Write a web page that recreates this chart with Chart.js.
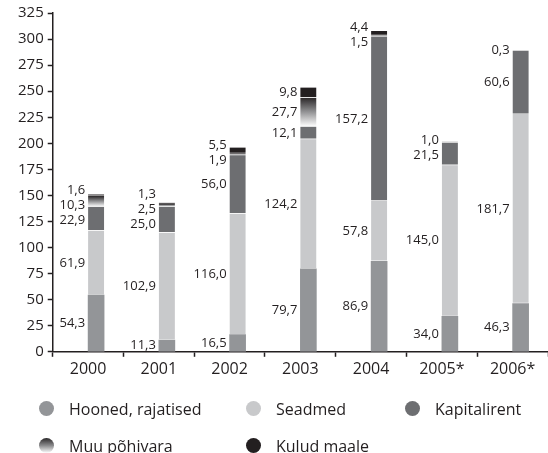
<!DOCTYPE html>
<html>
<head>
<meta charset="utf-8">
<script src="https://cdn.jsdelivr.net/npm/chart.js@4.4.1/dist/chart.umd.min.js"></script>
<style>
  html, body { margin: 0; padding: 0; background: #fff; }
  #wrap { position: relative; width: 548px; height: 453px; overflow: hidden; font-family: "Open Sans", sans-serif; color: #231f20; }
  #c { position: absolute; left: 0; top: 0; }
  .leg { position: absolute; font-size: 16px; line-height: 20px; white-space: nowrap; }
  .leg .dot { position: absolute; width: 15px; height: 15px; border-radius: 50%; top: 2px; }
  .leg .txt { position: absolute; left: 30px; top: 0; }
</style>
</head>
<body>
<div id="wrap">
  <canvas id="c" width="548" height="453"></canvas>
  <div id="legend"></div>
</div>
<script>
const categories = ["2000", "2001", "2002", "2003", "2004", "2005*", "2006*"];
const hooned      = [54.3, 11.3, 16.5, 79.7, 86.9, 34.0, 46.3];
const seadmed     = [61.9, 102.9, 116.0, 124.2, 57.8, 145.0, 181.7];
const kapitalirent= [22.9, 25.0, 56.0, 12.1, 157.2, 21.5, 60.6];
const muuPohivara = [10.3, 2.5, 1.9, 27.7, 1.5, 1.0, 0.3];
const kuludMaale  = [1.6, 1.3, 5.5, 9.8, 4.4, null, null];
const yTicks = { min: 0, max: 325, step: 25 };
const seriesNames = ["Hooned, rajatised", "Seadmed", "Kapitalirent", "Muu põhivara", "Kulud maale"];

const INK = "#231f20";
const FONT = "'Open Sans', sans-serif";

function muuGradient(ctx) {
  const chart = ctx.chart;
  const i = ctx.dataIndex;
  if (i === undefined || !chart.chartArea || !chart.scales.y) return "#777";
  const y = chart.scales.y;
  const base = (hooned[i] || 0) + (seadmed[i] || 0) + (kapitalirent[i] || 0);
  const top = base + (muuPohivara[i] || 0);
  const yb = y.getPixelForValue(base), yt = y.getPixelForValue(top);
  if (!isFinite(yb) || !isFinite(yt) || yb === yt) return "#777";
  const g = chart.ctx.createLinearGradient(0, yt, 0, yb);
  g.addColorStop(0, "#2b2829");
  g.addColorStop(0.45, "#8a8a8c");
  g.addColorStop(1, "#ffffff");
  return g;
}

const segBorder = { top: 0, bottom: 1, left: 0, right: 0 };
const common = { stack: "main", barThickness: 16, borderColor: "#ffffff", borderWidth: segBorder, borderSkipped: false };

const labelPlugin = {
  id: "segLabels",
  afterDatasetsDraw(chart) {
    const ctx = chart.ctx;
    ctx.save();
    ctx.font = "13px " + FONT;
    ctx.fillStyle = INK;
    ctx.textAlign = "right";
    ctx.textBaseline = "middle";
    const n = categories.length;
    for (let i = 0; i < n; i++) {
      const items = [];
      chart.data.datasets.forEach((ds, di) => {
        if (ds.stack !== "main") return;
        const v = ds.data[i];
        if (v === null || v === undefined) return;
        const el = chart.getDatasetMeta(di).data[i];
        if (!el) return;
        items.push({ text: v.toFixed(1).replace(".", ","), x: el.x - el.width / 2 - 3, y: (el.y + el.base) / 2 });
      });
      const gap = 15;
      for (let it = 0; it < 60; it++) {
        for (let k = 0; k + 1 < items.length; k++) {
          const lo = items[k], up = items[k + 1];
          const d = lo.y - up.y;
          if (d < gap) {
            const push = (gap - d) / 2;
            lo.y += push; up.y -= push;
          }
        }
      }
      items.forEach(o => ctx.fillText(o.text, o.x, o.y));
    }
    ctx.restore();
  }
};

new Chart(document.getElementById("c"), {
  type: "bar",
  data: {
    labels: categories,
    datasets: [
      { label: "", data: categories.map(() => null), stack: "pad", barThickness: 16, backgroundColor: "rgba(0,0,0,0)" },
      { ...common, label: seriesNames[0], data: hooned, backgroundColor: "#939598", borderWidth: 0 },
      { ...common, label: seriesNames[1], data: seadmed, backgroundColor: "#c8c9cb" },
      { ...common, label: seriesNames[2], data: kapitalirent, backgroundColor: "#6d6e71" },
      { ...common, label: seriesNames[3], data: muuPohivara, backgroundColor: muuGradient },
      { ...common, label: seriesNames[4], data: kuludMaale, backgroundColor: INK }
    ]
  },
  options: {
    responsive: false,
    animation: false,
    layout: { padding: { left: 14, right: -6, top: 9, bottom: 71 } },
    plugins: { legend: { display: false }, tooltip: { enabled: false } },
    scales: {
      x: {
        stacked: true,
        grid: { display: true, offset: true, drawOnChartArea: false, drawTicks: true, tickLength: 5, color: INK, tickWidth: 1.5 },
        border: { display: true, color: INK, width: 1.5 },
        ticks: { color: INK, font: { family: FONT, size: 16 }, padding: 3, autoSkip: false, maxRotation: 0 }
      },
      y: {
        stacked: true,
        min: yTicks.min, max: yTicks.max,
        grid: { display: true, drawOnChartArea: false, drawTicks: true, tickLength: 5, color: INK, tickWidth: 1.5 },
        border: { display: true, color: INK, width: 1.5 },
        ticks: { stepSize: yTicks.step, color: INK, font: { family: FONT, size: 15 }, padding: 4 }
      }
    }
  },
  plugins: [labelPlugin]
});

const legendItems = [
  { name: seriesNames[0], bg: "#939598", left: 39, top: 399 },
  { name: seriesNames[1], bg: "#c8c9cb", left: 246, top: 399 },
  { name: seriesNames[2], bg: "#6d6e71", left: 405, top: 399 },
  { name: seriesNames[3], bg: "linear-gradient(to bottom, #2b2829 0%, #8a8a8c 50%, #ffffff 100%)", left: 39, top: 436 },
  { name: seriesNames[4], bg: INK, left: 246, top: 436 }
];
const L = document.getElementById("legend");
legendItems.forEach(it => {
  const d = document.createElement("div");
  d.className = "leg";
  d.style.left = it.left + "px";
  d.style.top = it.top + "px";
  d.innerHTML = '<span class="dot" style="background:' + it.bg + '"></span><span class="txt"></span>';
  d.querySelector(".txt").textContent = it.name;
  L.appendChild(d);
});
</script>
</body>
</html>
